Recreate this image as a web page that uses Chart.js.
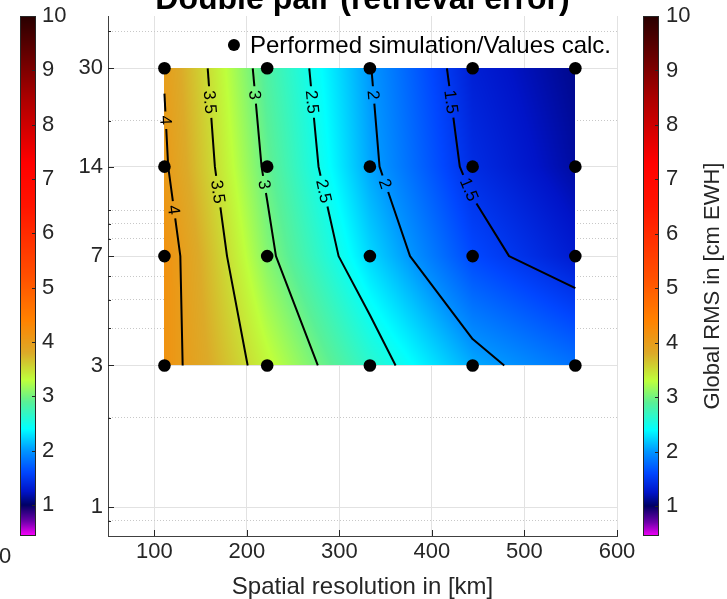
<!DOCTYPE html>
<html>
<head>
<meta charset="utf-8">
<title>Double pair (retrieval error)</title>
<script src="https://cdn.jsdelivr.net/npm/chart.js@4.4.0/dist/chart.umd.min.js"></script>
<style>
  html, body { margin: 0; padding: 0; background: #fff; }
</style>
</head>
<body>
<canvas id="rmsChart" width="727" height="599"></canvas>
<script>
// simulation grid: spatial resolution (km) x period (days)
const resolutionKm = [111, 222, 333, 444, 555];
const periodDays = [3, 7, 14, 30];
// global RMS [cm EWH] per period, one value per resolution
const rmsDays3  = [4.14, 3.35, 2.64, 2.08, 1.82];
const rmsDays7  = [4.17, 3.07, 2.25, 1.61, 1.30];
const rmsDays14 = [4.04, 2.94, 2.06, 1.42, 1.15];
const rmsDays30 = [3.98, 2.84, 2.01, 1.33, 1.10];
const contourLevels = [1.5, 2, 2.5, 3, 3.5, 4];

// axis ticks
const xTicks = [100, 200, 300, 400, 500, 600];
const yMajorTicks = [1, 3, 7, 14, 30];
const yMinorTicks = [0.9, 2, 4, 5, 6, 8, 9, 10, 20, 40];
const colorbarTicks = [1, 2, 3, 4, 5, 6, 7, 8, 9, 10];

// colormap (value -> rgb)
const cmapValues = [0.43, 0.7, 1.0, 1.25, 1.6, 2.0, 2.4, 2.9, 3.3, 3.8, 4.4, 5.2, 6.5, 7.3, 8.5, 10];
const cmapColors = [[255,0,255],[110,0,170],[0,0,100],[0,20,200],[0,70,255],[0,150,255],[0,255,255],
  [90,240,150],[190,255,60],[220,170,40],[255,130,0],[255,80,0],[255,20,0],[255,0,0],[170,0,0],[40,0,0]];

const rmsRows = [rmsDays3, rmsDays7, rmsDays14, rmsDays30];
const FONT = '"Liberation Sans", Arial, sans-serif';
const TEXT = '#262626';

function colorFor(z) {
  if (z <= cmapValues[0]) return cmapColors[0];
  for (let k = 1; k < cmapValues.length; k++) {
    if (z <= cmapValues[k]) {
      const t = (z - cmapValues[k - 1]) / (cmapValues[k] - cmapValues[k - 1]);
      const a = cmapColors[k - 1], b = cmapColors[k];
      return [a[0] + t * (b[0] - a[0]), a[1] + t * (b[1] - a[1]), a[2] + t * (b[2] - a[2])];
    }
  }
  return cmapColors[cmapColors.length - 1];
}

// marching squares on the data grid, crossings interpolated in data units
function buildContours(level) {
  const segs = [], keyPt = {};
  const nx = resolutionKm.length, ny = periodDays.length;
  function cross(key, xa, ya, za, xb, yb, zb) {
    const t = (level - za) / (zb - za);
    keyPt[key] = { x: xa + t * (xb - xa), y: ya + t * (yb - ya) };
    return key;
  }
  for (let j = 0; j < ny - 1; j++) {
    for (let i = 0; i < nx - 1; i++) {
      const z00 = rmsRows[j][i], z10 = rmsRows[j][i + 1], z01 = rmsRows[j + 1][i], z11 = rmsRows[j + 1][i + 1];
      const x0 = resolutionKm[i], x1 = resolutionKm[i + 1], y0 = periodDays[j], y1 = periodDays[j + 1];
      const hits = [];
      if ((z00 - level) * (z10 - level) < 0) hits.push(cross('h' + i + '_' + j, x0, y0, z00, x1, y0, z10));
      if ((z10 - level) * (z11 - level) < 0) hits.push(cross('v' + (i + 1) + '_' + j, x1, y0, z10, x1, y1, z11));
      if ((z01 - level) * (z11 - level) < 0) hits.push(cross('h' + i + '_' + (j + 1), x0, y1, z01, x1, y1, z11));
      if ((z00 - level) * (z01 - level) < 0) hits.push(cross('v' + i + '_' + j, x0, y0, z00, x0, y1, z01));
      if (hits.length === 2) segs.push(hits);
      else if (hits.length === 4) {
        const c = (z00 + z10 + z01 + z11) / 4;
        if ((c > level) === (z00 > level)) { segs.push([hits[0], hits[1]]); segs.push([hits[2], hits[3]]); }
        else { segs.push([hits[0], hits[3]]); segs.push([hits[1], hits[2]]); }
      }
    }
  }
  const adj = {};
  segs.forEach((s, k) => s.forEach(key => (adj[key] = adj[key] || []).push(k)));
  const used = segs.map(() => false);
  const keys = Object.keys(adj);
  const starts = keys.filter(k => adj[k].length === 1).concat(keys);
  const lines = [];
  for (const start of starts) {
    let k = adj[start].find(s => !used[s]);
    if (k === undefined) continue;
    const path = [start];
    let cur = start;
    while (k !== undefined) {
      used[k] = true;
      const next = segs[k][0] === cur ? segs[k][1] : segs[k][0];
      path.push(next);
      cur = next;
      k = adj[cur].find(s => !used[s]);
    }
    lines.push(path.map(key => keyPt[key]));
  }
  return lines;
}

function drawContours(chart) {
  const { ctx, scales: { x: xs, y: ys } } = chart;
  ctx.save();
  ctx.font = '17px ' + FONT;
  ctx.strokeStyle = '#000';
  ctx.fillStyle = '#000';
  ctx.lineWidth = 2;
  ctx.lineJoin = 'round';
  contourLevels.forEach(level => {
    buildContours(level).forEach(line => {
      let pts = line.map(p => ({ x: xs.getPixelForValue(p.x), y: ys.getPixelForValue(p.y) }));
      if (pts[0].y > pts[pts.length - 1].y) pts = pts.reverse();
      const cum = [0];
      for (let k = 1; k < pts.length; k++) cum.push(cum[k - 1] + Math.hypot(pts[k].x - pts[k - 1].x, pts[k].y - pts[k - 1].y));
      const total = cum[cum.length - 1];
      const pointAt = s => {
        let k = 1;
        while (k < pts.length - 1 && cum[k] < s) k++;
        const t = (s - cum[k - 1]) / (cum[k] - cum[k - 1] || 1);
        return { x: pts[k - 1].x + t * (pts[k].x - pts[k - 1].x), y: pts[k - 1].y + t * (pts[k].y - pts[k - 1].y), k };
      };
      const text = String(level);
      const half = ctx.measureText(text).width / 2 + 4;
      const labels = [18 + half, 108 + half].filter(s => s + half < total);
      // line pieces between the label gaps
      let from = 0;
      const pieces = [];
      labels.forEach(s => { pieces.push([from, s - half]); from = s + half; });
      pieces.push([from, total]);
      pieces.forEach(([s0, s1]) => {
        if (s1 <= s0) return;
        const a = pointAt(s0), b = pointAt(s1);
        ctx.beginPath();
        ctx.moveTo(a.x, a.y);
        for (let k = a.k; k < b.k; k++) if (cum[k] > s0) ctx.lineTo(pts[k].x, pts[k].y);
        ctx.lineTo(b.x, b.y);
        ctx.stroke();
      });
      labels.forEach(s => {
        const p = pointAt(s);
        let ang = Math.atan2(pts[p.k].y - pts[p.k - 1].y, pts[p.k].x - pts[p.k - 1].x);
        if (ang > Math.PI / 2) ang -= Math.PI;
        if (ang < -Math.PI / 2) ang += Math.PI;
        ctx.save();
        ctx.translate(p.x, p.y);
        ctx.rotate(ang);
        ctx.textAlign = 'center';
        ctx.textBaseline = 'middle';
        ctx.fillText(text, 0, 1);
        ctx.restore();
      });
    });
  });
  ctx.restore();
}

const surfacePlugin = {
  id: 'surface',
  beforeDatasetsDraw(chart) {
    const { ctx, scales: { x: xs, y: ys } } = chart;
    const colPx = resolutionKm.map(v => xs.getPixelForValue(v));
    const rowPx = periodDays.map(v => ys.getPixelForValue(v));
    const left = Math.round(colPx[0]), right = Math.round(colPx[colPx.length - 1]);
    const top = Math.round(rowPx[rowPx.length - 1]), bottom = Math.round(rowPx[0]);
    const w = right - left, h = bottom - top;
    const off = document.createElement('canvas');
    off.width = w; off.height = h;
    const octx = off.getContext('2d');
    const img = octx.createImageData(w, h);
    for (let v = 0; v < h; v++) {
      const py = top + v + 0.5;
      let j = 0;
      while (j < rowPx.length - 2 && py < rowPx[j + 1]) j++;
      const fy = (rowPx[j] - py) / (rowPx[j] - rowPx[j + 1]);
      for (let u = 0; u < w; u++) {
        const px = left + u + 0.5;
        let i = 0;
        while (i < colPx.length - 2 && px > colPx[i + 1]) i++;
        const fx = (px - colPx[i]) / (colPx[i + 1] - colPx[i]);
        const z = (1 - fx) * (1 - fy) * rmsRows[j][i] + fx * (1 - fy) * rmsRows[j][i + 1]
                + (1 - fx) * fy * rmsRows[j + 1][i] + fx * fy * rmsRows[j + 1][i + 1];
        const c = colorFor(z);
        const k = (v * w + u) * 4;
        img.data[k] = c[0]; img.data[k + 1] = c[1]; img.data[k + 2] = c[2]; img.data[k + 3] = 255;
      }
    }
    octx.putImageData(img, 0, 0);
    ctx.drawImage(off, left, top);
    drawContours(chart);
  }
};

function drawColorbar(ctx, scale, x0) {
  for (let y = Math.floor(scale.top); y < scale.bottom; y++) {
    const c = colorFor(scale.getValueForPixel(y + 0.5));
    ctx.fillStyle = 'rgb(' + c.map(Math.round).join(',') + ')';
    ctx.fillRect(x0, y, 16, 1);
  }
  ctx.strokeStyle = TEXT;
  ctx.lineWidth = 1;
  ctx.strokeRect(x0 + 0.5, Math.floor(scale.top) + 0.5, 15, Math.round(scale.bottom - scale.top) - 1);
  ctx.beginPath();
  colorbarTicks.forEach(v => {
    const y = Math.round(scale.getPixelForValue(v)) + 0.5;
    ctx.moveTo(x0 + 16, y);
    ctx.lineTo(x0 + 12, y);
  });
  ctx.stroke();
}

const decorPlugin = {
  id: 'decor',
  afterDraw(chart) {
    const { ctx, chartArea: area, scales } = chart;
    ctx.save();
    // inward axis ticks
    ctx.strokeStyle = TEXT;
    ctx.lineWidth = 1;
    ctx.beginPath();
    scales.y.ticks.forEach(t => {
      const y = Math.round(scales.y.getPixelForValue(t.value)) + 0.5;
      const len = yMajorTicks.includes(t.value) ? 6 : 3;
      ctx.moveTo(area.left, y); ctx.lineTo(area.left + len, y);
    });
    xTicks.forEach(v => {
      const x = Math.round(scales.x.getPixelForValue(v)) + 0.5;
      ctx.moveTo(x, area.bottom); ctx.lineTo(x, area.bottom - 6);
    });
    ctx.stroke();

    // colorbars
    drawColorbar(ctx, scales.cbL, scales.cbL.right - 16);
    drawColorbar(ctx, scales.cbR, scales.cbR.left + 26);

    ctx.fillStyle = TEXT;
    // colorbar label
    ctx.save();
    ctx.translate(713, (area.top + area.bottom) / 2 + 10);
    ctx.rotate(-Math.PI / 2);
    ctx.font = '22px ' + FONT;
    ctx.textAlign = 'center';
    ctx.textBaseline = 'middle';
    ctx.fillText('Global RMS in [cm EWH]', 0, 0);
    ctx.restore();

    // title (cut at the top edge)
    ctx.fillStyle = '#000';
    ctx.font = 'bold 32px ' + FONT;
    ctx.textAlign = 'center';
    ctx.textBaseline = 'alphabetic';
    ctx.fillText('Double pair (retrieval error)', (area.left + area.right) / 2, 9);

    // stray colorbar label at the bottom left
    ctx.fillStyle = TEXT;
    ctx.font = '22px ' + FONT;
    ctx.textAlign = 'left';
    ctx.fillText('0', -1, 563);

    // legend
    const ds = chart.data.datasets[0];
    ctx.font = '24px ' + FONT;
    ctx.fillStyle = '#000';
    const tw = ctx.measureText(ds.label).width;
    const tx = area.right - 6 - tw;
    ctx.fillText(ds.label, tx, 53);
    ctx.beginPath();
    ctx.arc(tx - 16, 45, 6, 0, Math.PI * 2);
    ctx.fill();
    ctx.restore();
  }
};

// keep label overflow of the vertical axes from pushing the plot area
function noEdgePadding(s) {
  s.paddingTop = 0;
  s.paddingBottom = 0;
}

const points = [];
periodDays.forEach(d => resolutionKm.forEach(km => points.push({ x: km, y: d })));

Chart.defaults.font.family = FONT;
Chart.defaults.color = TEXT;

new Chart(document.getElementById('rmsChart'), {
  type: 'scatter',
  data: {
    datasets: [{
      label: 'Performed simulation/Values calc.',
      data: points,
      backgroundColor: '#000',
      borderColor: '#000',
      borderWidth: 0,
      pointRadius: 6.3,
      pointHoverRadius: 6.3
    }]
  },
  options: {
    responsive: false,
    animation: false,
    events: [],
    layout: { padding: { top: 16, left: 0, right: 0, bottom: 0 } },
    plugins: { legend: { display: false }, tooltip: { enabled: false } },
    scales: {
      x: {
        type: 'linear',
        position: 'bottom',
        min: 50,
        max: 600,
        afterBuildTicks: s => { s.ticks = xTicks.map(v => ({ value: v })); },
        afterFit: s => { s.height = 63; },
        ticks: { font: { size: 22 }, color: TEXT, padding: 3, autoSkip: false, maxRotation: 0 },
        grid: { color: '#e2e2e2', drawTicks: false },
        border: { display: true, color: '#404040', width: 1 },
        title: {
          display: true,
          text: 'Spatial resolution in [km]',
          font: { size: 24 },
          color: TEXT,
          padding: { top: 0, bottom: -3 }
        }
      },
      y: {
        type: 'logarithmic',
        position: 'left',
        weight: 0,
        min: 0.8,
        max: 45,
        afterBuildTicks: s => {
          s.ticks = yMinorTicks.concat(yMajorTicks).sort((a, b) => a - b).map(v => ({ value: v }));
        },
        afterFit: s => { s.width = 72; noEdgePadding(s); },
        ticks: {
          font: { size: 22 },
          color: TEXT,
          padding: 5,
          autoSkip: false,
          callback: v => (yMajorTicks.includes(v) ? String(v) : '')
        },
        grid: {
          drawTicks: false,
          color: c => (c.tick && yMajorTicks.includes(c.tick.value) ? '#e2e2e2' : '#c8c8c8')
        },
        border: {
          display: true,
          color: '#404040',
          width: 1,
          dash: c => (c.tick && !yMajorTicks.includes(c.tick.value) ? [1, 2] : [])
        }
      },
      cbL: {
        type: 'linear',
        axis: 'y',
        position: 'left',
        weight: 1,
        min: 0.43,
        max: 10,
        afterBuildTicks: s => { s.ticks = colorbarTicks.map(v => ({ value: v })); },
        afterFit: s => { s.width = 36; noEdgePadding(s); },
        ticks: { mirror: true, padding: 6, font: { size: 22 }, color: TEXT, autoSkip: false },
        grid: { display: false, drawTicks: false },
        border: { display: false }
      },
      cbR: {
        type: 'linear',
        axis: 'y',
        position: 'right',
        weight: 0,
        min: 0.45,
        max: 10,
        afterBuildTicks: s => { s.ticks = colorbarTicks.map(v => ({ value: v })); },
        afterFit: s => { s.width = 110; noEdgePadding(s); },
        ticks: { padding: 49, font: { size: 22 }, color: TEXT, autoSkip: false },
        grid: { display: false, drawTicks: false },
        border: { display: false }
      }
    }
  },
  plugins: [surfacePlugin, decorPlugin]
});
</script>
</body>
</html>
